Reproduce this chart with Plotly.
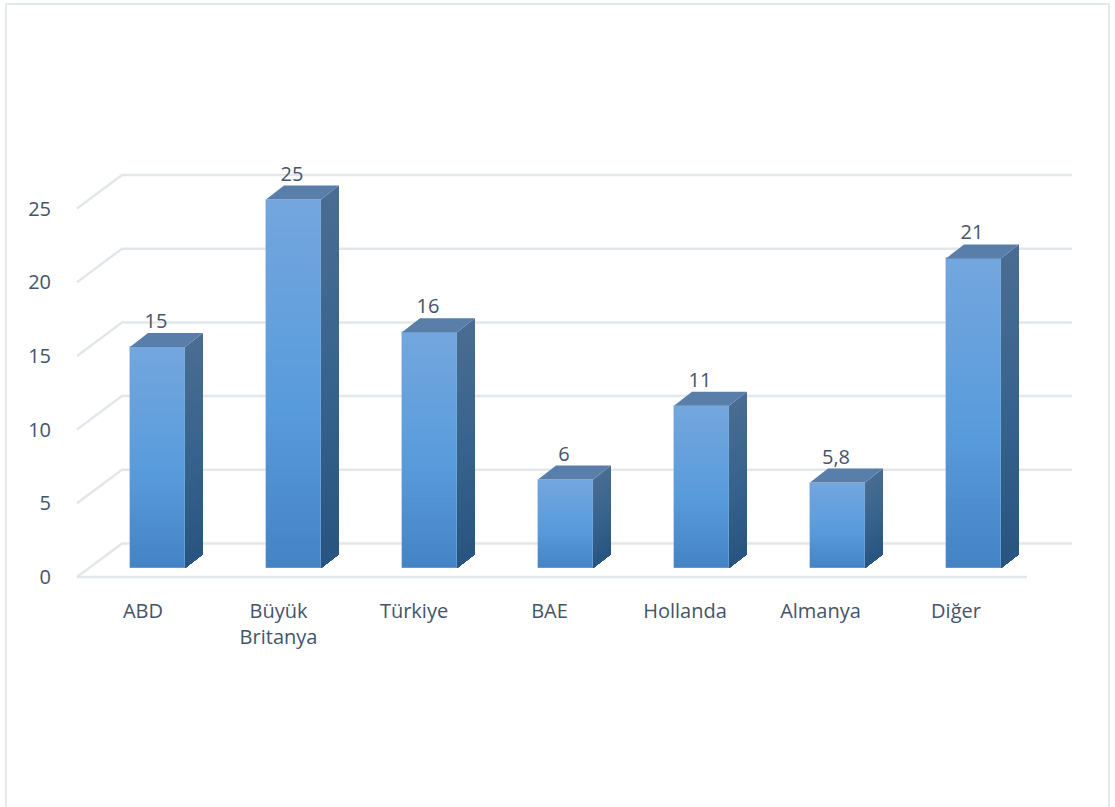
import plotly.graph_objects as go

# ---- data ----
categories = ["ABD", "Büyük<br>Britanya", "Türkiye", "BAE", "Hollanda", "Almanya", "Diğer"]
values = [15, 25, 16, 6, 11, 5.8, 21]
value_labels = ["15", "25", "16", "6", "11", "5,8", "21"]
y_ticks = [0, 5, 10, 15, 20, 25]

# ---- geometry (pixel scale of the chart's oblique projection) ----
W, H = 1115, 807
ML, MR, MT, MB = 70, 35, 150, 222
PX_X = 136.0      # px per category
PX_Y = 14.74      # px per value unit
X0_PX = 145.0     # px of first category centre
Y0_PX = 577.0     # px of value 0, front plane
BAR_OFF = 12.5 / PX_X          # bar centre shift against category centre
BAR_W = 55.0 / PX_X
BAR_BASE = 9.0 / PX_Y
BAR_DX = 18.0 / PX_X
BAR_DY = 14.0 / PX_Y
WALL_DX = 45.0 / PX_X
WALL_DY = 33.5 / PX_Y
WALL_L = (77.0 - X0_PX) / PX_X
WALL_R = (1027.0 - X0_PX) / PX_X
TICK_SHIFT = -2.0 / PX_X
TICK_STEP = 135.5 / PX_X
LABEL_SHIFT = -1.5 / PX_X

GRID = "#e3e7ec"
TEXT = "#44546a"
FONT = "Open Sans"
FS = 20
N = 40


def lerp(stops, t):
    for (a, ca), (b, cb) in zip(stops, stops[1:]):
        if t <= b:
            f = (t - a) / (b - a)
            return "rgb(%d,%d,%d)" % tuple(round(p + (q - p) * f) for p, q in zip(ca, cb))
    return "rgb(%d,%d,%d)" % stops[-1][1]


FRONT = [(0, (68, 130, 196)), (0.45, (88, 155, 220)), (1, (115, 166, 222))]
SIDE = [(0, (39, 84, 128)), (0.5, (54, 100, 142)), (1, (74, 108, 146))]
TOP = "#587ea9"

fig = go.Figure()

# ---- walls and floor gridlines (below every mark) ----
shapes = []
for t in y_ticks:
    shapes.append(dict(type="path", xref="x", yref="y", layer="below",
                       line=dict(color=GRID, width=2.5),
                       path="M %f,%f L %f,%f L %f,%f" % (
                           WALL_L, t, WALL_L + WALL_DX, t + WALL_DY,
                           WALL_R + WALL_DX, t + WALL_DY)))
shapes.append(dict(type="line", xref="x", yref="y", layer="below",
                   line=dict(color=GRID, width=2.5),
                   x0=WALL_L, x1=WALL_R, y0=0, y1=0))

xs = [i + BAR_OFF for i in range(len(values))]

# ---- side faces: painted from tallest band to shortest for a vertical gradient ----
for k in range(N, 0, -1):
    f = k / N
    px, py = [], []
    for x, v in zip(xs, values):
        r = x + BAR_W / 2
        px += [r, r + BAR_DX, r + BAR_DX, r, r, None]
        py += [BAR_BASE, BAR_BASE + BAR_DY, BAR_BASE + BAR_DY + v * f, BAR_BASE + v * f, BAR_BASE, None]
    c = lerp(SIDE, f)
    fig.add_trace(go.Scatter(x=px, y=py, mode="lines", fill="toself", fillcolor=c,
                             line=dict(width=0, color=c), hoverinfo="skip", showlegend=False))

# ---- top faces ----
px, py = [], []
for x, v in zip(xs, values):
    l, r, t = x - BAR_W / 2, x + BAR_W / 2, BAR_BASE + v
    px += [l, r, r + BAR_DX, l + BAR_DX, l, None]
    py += [t, t, t + BAR_DY, t + BAR_DY, t, None]
fig.add_trace(go.Scatter(x=px, y=py, mode="lines", fill="toself", fillcolor=TOP,
                         line=dict(width=0, color=TOP), hoverinfo="skip", showlegend=False))

# ---- front faces ----
for k in range(N, 0, -1):
    f = k / N
    fig.add_trace(go.Bar(x=xs, y=[v * f for v in values], base=BAR_BASE, width=BAR_W,
                         marker=dict(color=lerp(FRONT, f), line=dict(width=0)),
                         hoverinfo="skip", showlegend=False))
fig.add_trace(go.Bar(x=xs, y=values, base=BAR_BASE, width=BAR_W,
                     marker=dict(color="rgba(0,0,0,0)", line=dict(width=1, color="rgba(130,175,225,0.5)")),
                     hoverinfo="skip", showlegend=False))

# ---- data labels ----
fig.add_trace(go.Scatter(x=[x + LABEL_SHIFT for x in xs],
                         y=[BAR_BASE + v + 24.0 / PX_Y for v in values], mode="text",
                         text=value_labels, textposition="middle center",
                         textfont=dict(family=FONT, size=FS, color=TEXT),
                         hoverinfo="skip", showlegend=False))

pw = W - ML - MR
ph = H - MT - MB


def paper_x(p):
    return (p - ML) / pw


def paper_y(p):
    return 1 - (p - MT) / ph


shapes.append(dict(type="path", xref="paper", yref="paper",
                   path="M %f,%f L %f,%f L %f,%f L %f,%f" % (
                       paper_x(6), paper_y(H + 5), paper_x(6), paper_y(4),
                       paper_x(1109), paper_y(4), paper_x(1109), paper_y(H + 5)),
                   line=dict(color="#e4e9ef", width=2), layer="below"))

fig.update_layout(
    width=W, height=H, autosize=False,
    margin=dict(l=ML, r=MR, t=MT, b=MB, pad=0),
    paper_bgcolor="white", plot_bgcolor="rgba(0,0,0,0)",
    barmode="overlay", bargap=0, showlegend=False,
    font=dict(family=FONT, size=FS, color=TEXT),
    xaxis=dict(range=[(ML - X0_PX) / PX_X, (W - MR - X0_PX) / PX_X],
               tickmode="array",
               tickvals=[TICK_SHIFT + i * TICK_STEP for i in range(len(categories))],
               ticktext=categories,
               showgrid=False, zeroline=False, showline=False,
               ticks="outside", ticklen=8, tickcolor="rgba(0,0,0,0)",
               tickfont=dict(family=FONT, size=FS, color=TEXT), tickangle=0),
    yaxis=dict(range=[(Y0_PX - (H - MB)) / PX_Y, (Y0_PX - MT) / PX_Y],
               tickmode="array", tickvals=y_ticks,
               showgrid=False, zeroline=False, showline=False,
               ticks="outside", ticklen=14, tickcolor="rgba(0,0,0,0)",
               tickfont=dict(family=FONT, size=FS, color=TEXT)),
    shapes=shapes,
)

fig.write_html("out.html", config={"displayModeBar": False},
               post_script="document.body.style.margin='0';document.body.style.overflow='hidden';")
